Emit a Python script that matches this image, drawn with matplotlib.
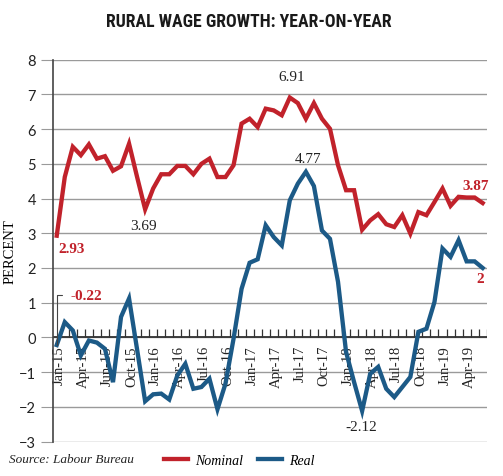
import numpy as np
import matplotlib.pyplot as plt
from matplotlib import font_manager
from matplotlib.lines import Line2D

# monthly yoy rural wage growth, Jan-15 .. Jun-19
nominal = [2.93, 4.62, 5.49, 5.25, 5.56, 5.15, 5.22, 4.80, 4.93, 5.58,
           4.62, 3.69, 4.29, 4.70, 4.70, 4.94, 4.94, 4.70, 5.00, 5.15,
           4.62, 4.62, 4.96, 6.16, 6.30, 6.06, 6.59, 6.54, 6.40, 6.91,
           6.75, 6.30, 6.75, 6.30, 6.01, 4.96, 4.24, 4.24, 3.10, 3.37,
           3.55, 3.26, 3.18, 3.52, 2.99, 3.61, 3.52, 3.90, 4.29, 3.79,
           4.05, 4.03, 4.03, 3.87]
real = [-0.22, 0.44, 0.20, -0.52, -0.09, -0.15, -0.33, -1.29, 0.59, 1.12,
        -0.35, -1.84, -1.64, -1.62, -1.79, -1.10, -0.76, -1.48, -1.43, -1.19,
        -2.07, -1.33, -0.04, 1.40, 2.15, 2.25, 3.23, 2.89, 2.65, 3.95,
        4.43, 4.77, 4.36, 3.08, 2.84, 1.60, -0.42, -1.29, -2.12, -1.05,
        -0.85, -1.48, -1.72, -1.43, -1.14, 0.16, 0.25, 1.02, 2.56, 2.32,
        2.80, 2.19, 2.19, 2.00]

tick_idx = [0, 3, 6, 9, 12, 15, 18, 21, 24, 27, 30, 33, 36, 39, 42, 45, 48, 51]
tick_labels = ['Jan-15', 'Apr-15', 'Jun-15', 'Oct-15', 'Jan-16', 'Apr-16',
               'Jul-16', 'Oct-16', 'Jan-17', 'Apr-17', 'Jul-17', 'Oct-17',
               'Jan-18', 'Apr-18', 'Jul-18', 'Oct-18', 'Jan-19', 'Apr-19']

red = '#c1222b'
blue = '#1c5a87'
serif = 'Liberation Serif'

# title font: look for something narrow, otherwise Roboto
names = set(f.name for f in font_manager.fontManager.ttflist)
title_font = 'Roboto'
for cand in ['Liberation Sans Narrow', 'DejaVu Sans Condensed', 'Roboto Condensed',
             'Open Sans Condensed', 'Noto Sans Condensed']:
    if cand in names:
        title_font = cand
        break

x = np.arange(len(nominal))

fig = plt.figure(figsize=(5.03, 4.77), dpi=100)
ax = fig.add_axes([0.1048, 0.0723, 0.8628, 0.8004])

ax.set_xlim(-0.5, len(x) - 0.5)
ax.set_ylim(-3, 8)
ax.set_yticks(range(-3, 9))
ax.grid(axis='y', color='#9a9a9a', lw=1.0)
ax.set_axisbelow(True)
for s in ['top', 'right', 'bottom']:
    ax.spines[s].set_visible(False)
ax.spines['left'].set_color('#444444')
ax.spines['left'].set_linewidth(1.2)
ax.set_xticks([])
ax.tick_params(axis='y', length=9, color='#9a9a9a', pad=3, labelsize=10.5)
for lab in ax.get_yticklabels():
    lab.set_family('Lato')
    lab.set_color('#222222')

# zero line with month ticks
ax.axhline(0, color='#333333', lw=1.3, zorder=1)
ax.vlines(x + 0.5, 0, 0.24, color='#333333', lw=0.9, zorder=1)

ax.plot(x, nominal, color=red, lw=3.1, solid_joinstyle='miter', zorder=3)
ax.plot(x, real, color=blue, lw=3.1, solid_joinstyle='miter', zorder=3)

for i, lab in zip(tick_idx, tick_labels):
    ax.text(i + 0.3, -0.22, lab, rotation=90, ha='center', va='top',
            family=serif, fontsize=10.5, color='#222222', zorder=2)

ax.set_ylabel('PERCENT', family=serif, fontsize=10.5, labelpad=4)
ax.yaxis.set_label_coords(-0.083, 0.5)

def note(txt, i, y, dx, dy, col, bold=False, ha='center'):
    ax.annotate(txt, xy=(i, y), xytext=(dx, dy), textcoords='offset pixels',
                ha=ha, va='center', family=serif, fontsize=11,
                fontweight='bold' if bold else 'normal', color=col)

note('2.93', 0, nominal[0], 2, -13, red, True, ha='left')
note('3.69', 11, nominal[11], -2, -16, '#222222')
note('6.91', 29, nominal[29], 2, 21, '#222222')
note('4.77', 31, real[31], 2, 13, '#222222')
note('3.87', 53, nominal[53], -7, 18, red, True)
note('2', 53, real[53], -2, -11, red, True)
note('-2.12', 38, real[38], -1, -16, '#222222')
ax.annotate('-0.22', xy=(0, real[0]), xytext=(14, 50), textcoords='offset pixels',
            ha='left', va='center', family=serif, fontsize=11,
            fontweight='bold', color=red,
            arrowprops=dict(arrowstyle='-', color='#444444', lw=0.8,
                            connectionstyle='angle,angleA=0,angleB=90,rad=0',
                            shrinkA=4, shrinkB=0))

title = fig.text(0.495, 0.954, 'RURAL WAGE GROWTH: YEAR-ON-YEAR', ha='center',
                 va='center', family=[title_font, 'DejaVu Sans'], fontweight='bold',
                 fontsize=15.5, color='#1a1a1a')
# shrink the title until it is about as wide as the original (~276 px)
r = fig.canvas.get_renderer()
w = title.get_window_extent(r).width
if w > 290:
    title.set_fontsize(15.5 * 285 / w)

fig.text(0.018, 0.035, 'Source: Labour Bureau', ha='left', va='center',
         family=serif, style='italic', fontsize=9.5, color='#222222')

handles = [Line2D([], [], color=red, lw=3.1), Line2D([], [], color=blue, lw=3.1)]
fig.legend(handles, ['Nominal', 'Real'], loc='center', ncol=2, frameon=False,
           bbox_to_anchor=(0.476, 0.033), handlelength=1.7, handletextpad=0.5,
           columnspacing=1.1, prop={'family': serif, 'style': 'italic', 'size': 10})

plt.savefig('out.png', dpi=100)
